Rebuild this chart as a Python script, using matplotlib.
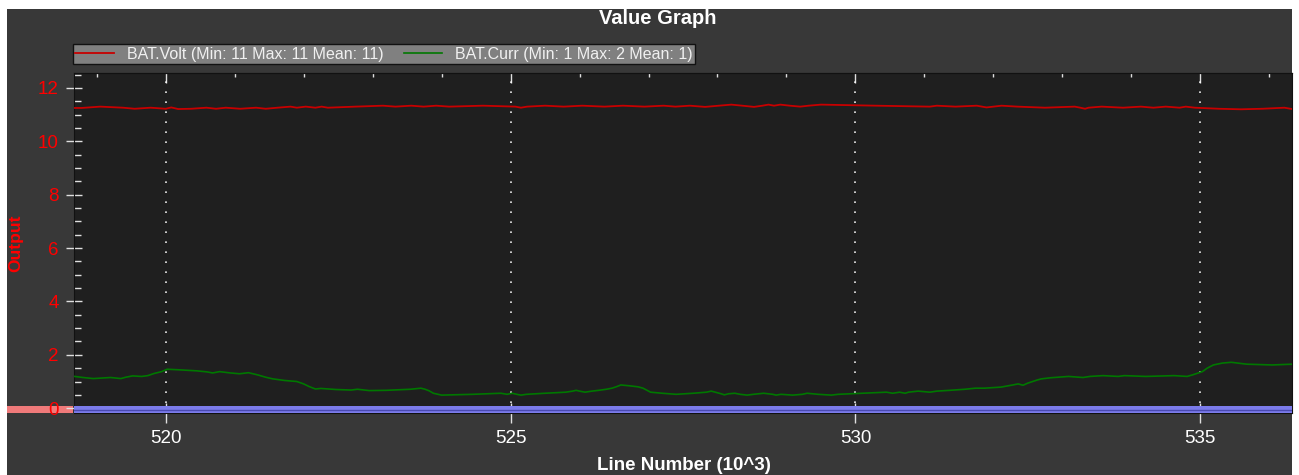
import matplotlib
matplotlib.use('Agg')
import matplotlib.pyplot as plt
from matplotlib.patches import Rectangle
from matplotlib.ticker import MultipleLocator, NullFormatter

plt.rcParams['font.family'] = ['Liberation Sans', 'DejaVu Sans']

# BAT.Volt samples (line number in thousands, volts)
volt_x = [518.68, 518.78, 519.05, 519.38, 519.55, 519.78, 520.00, 520.08, 520.18, 520.37,
          520.59, 520.73, 520.87, 521.08, 521.31, 521.45, 521.62, 521.81, 521.90, 522.03,
          522.17, 522.26, 522.35, 522.75, 523.15, 523.33, 523.56, 523.74, 523.92, 524.11,
          524.60, 525.07, 525.15, 525.24, 525.50, 525.77, 526.04, 526.36, 526.63, 526.94,
          527.22, 527.39, 527.60, 527.82, 528.02, 528.20, 528.36, 528.53, 528.65, 528.74,
          528.82, 528.91, 529.05, 529.20, 529.32, 529.50, 530.30, 531.08, 531.18, 531.45,
          531.76, 531.90, 532.12, 532.35, 532.75, 533.18, 533.26, 533.33, 533.38, 533.57,
          533.88, 534.14, 534.32, 534.50, 534.70, 534.79, 534.92, 535.27, 535.59, 535.90,
          536.22, 536.33]
volt_y = [11.25, 11.25, 11.30, 11.26, 11.22, 11.26, 11.22, 11.27, 11.21, 11.22,
          11.26, 11.22, 11.26, 11.22, 11.26, 11.22, 11.26, 11.30, 11.26, 11.30,
          11.26, 11.30, 11.26, 11.30, 11.335, 11.30, 11.335, 11.30, 11.335, 11.30,
          11.335, 11.30, 11.26, 11.30, 11.335, 11.30, 11.335, 11.30, 11.335, 11.30,
          11.335, 11.30, 11.335, 11.29, 11.335, 11.375, 11.335, 11.29, 11.335, 11.375,
          11.335, 11.375, 11.335, 11.30, 11.335, 11.375, 11.335, 11.30, 11.335, 11.30,
          11.335, 11.27, 11.335, 11.30, 11.26, 11.30, 11.26, 11.22, 11.26, 11.30,
          11.26, 11.30, 11.26, 11.30, 11.26, 11.30, 11.26, 11.22, 11.20, 11.22,
          11.26, 11.21]

# BAT.Curr samples (line number in thousands, amps)
curr_x = [518.68, 518.80, 518.95, 519.20, 519.35, 519.42, 519.52, 519.65, 519.74, 519.83,
          519.94, 520.02, 520.18, 520.45, 520.60, 520.68, 520.78, 520.94, 521.07, 521.20,
          521.33, 521.45, 521.55, 521.72, 521.90, 522.00, 522.08, 522.17, 522.25, 522.47,
          522.69, 522.78, 522.95, 523.20, 523.55, 523.70, 523.76, 523.82, 523.88, 524.00,
          524.45, 524.86, 524.95, 525.02, 525.09, 525.15, 525.23, 525.50, 525.80, 525.90,
          525.95, 526.00, 526.08, 526.18, 526.28, 526.39, 526.47, 526.53, 526.60, 526.72,
          526.85, 526.92, 526.98, 527.03, 527.20, 527.40, 527.65, 527.84, 527.91, 527.97,
          528.04, 528.10, 528.16, 528.25, 528.33, 528.43, 528.52, 528.67, 528.80, 528.85,
          528.92, 529.09, 529.23, 529.30, 529.46, 529.65, 529.75, 530.10, 530.45, 530.54,
          530.64, 530.72, 530.77, 530.91, 531.08, 531.18, 531.37, 531.59, 531.74, 531.87,
          532.11, 532.22, 532.28, 532.36, 532.43, 532.50, 532.57, 532.64, 532.70, 532.83,
          533.09, 533.30, 533.40, 533.59, 533.81, 533.90, 534.21, 534.62, 534.81, 534.89,
          534.96, 535.03, 535.10, 535.19, 535.32, 535.45, 535.54, 535.67, 536.04, 536.34]
curr_y = [1.19, 1.15, 1.11, 1.15, 1.11, 1.16, 1.21, 1.19, 1.22, 1.30,
          1.37, 1.46, 1.44, 1.40, 1.36, 1.32, 1.37, 1.32, 1.29, 1.33,
          1.25, 1.16, 1.10, 1.04, 1.00, 0.91, 0.81, 0.72, 0.74, 0.70,
          0.68, 0.71, 0.66, 0.67, 0.71, 0.75, 0.71, 0.65, 0.56, 0.49,
          0.52, 0.56, 0.52, 0.56, 0.52, 0.49, 0.52, 0.56, 0.60, 0.64,
          0.67, 0.64, 0.60, 0.64, 0.67, 0.71, 0.75, 0.80, 0.87, 0.84,
          0.80, 0.75, 0.67, 0.60, 0.56, 0.52, 0.56, 0.60, 0.64, 0.60,
          0.55, 0.50, 0.54, 0.56, 0.52, 0.49, 0.52, 0.56, 0.52, 0.49,
          0.52, 0.49, 0.52, 0.56, 0.52, 0.49, 0.52, 0.56, 0.60, 0.56,
          0.60, 0.56, 0.60, 0.64, 0.60, 0.64, 0.67, 0.71, 0.75, 0.75,
          0.79, 0.84, 0.87, 0.91, 0.86, 0.94, 1.00, 1.06, 1.10, 1.14,
          1.19, 1.15, 1.19, 1.22, 1.19, 1.22, 1.19, 1.22, 1.19, 1.25,
          1.31, 1.37, 1.50, 1.62, 1.69, 1.72, 1.69, 1.65, 1.62, 1.65]

volt_label = 'BAT.Volt (Min: 11 Max: 11 Mean: 11)'
curr_label = 'BAT.Curr (Min: 1 Max: 2 Mean: 1)'

W, H = 1299, 475
fig = plt.figure(figsize=(W / 100, H / 100), dpi=100, facecolor='white')

# dark panel behind everything
fig.patches.append(Rectangle((7 / W, 0), (1292 - 7) / W, (H - 9) / H,
                             transform=fig.transFigure, facecolor='#383838',
                             edgecolor='none', zorder=-10))
# pink strip left of the axis at zero
fig.patches.append(Rectangle((7 / W, 1 - 413 / H), (73 - 7) / W, 7 / H,
                             transform=fig.transFigure, facecolor='#f07a7a',
                             edgecolor='none', zorder=-5))

ax = fig.add_axes([74 / W, 1 - 413 / H, (1292 - 74) / W, (413 - 73) / H])
ax.set_zorder(2)
ax.set_facecolor('#1f1f1f')

ax.plot(volt_x, volt_y, color='#c80000', lw=1.3, label=volt_label, zorder=3)
ax.plot(curr_x, curr_y, color='#007800', lw=1.2, label=curr_label, zorder=3)

ax.set_xlim(518.67, 536.33)
ax.set_ylim(-0.18, 12.56)

# blue band along the bottom
ax.axhspan(-0.18, 0.086, color='#7b7bea', zorder=4, lw=0)
ax.axhline(-0.06, color='#4a4ab0', lw=1, zorder=4)

ax.xaxis.set_major_locator(MultipleLocator(5))
ax.xaxis.set_minor_locator(MultipleLocator(1))
ax.yaxis.set_major_locator(MultipleLocator(2))
ax.yaxis.set_minor_locator(MultipleLocator(0.5))

ax.tick_params(axis='x', which='major', direction='inout', length=14, width=1,
               color='#e0e0e0', labelcolor='white', labelsize=13.5, pad=5)
ax.tick_params(axis='x', which='minor', direction='in', length=4, width=1,
               color='#e0e0e0')
ax.tick_params(axis='y', which='major', direction='inout', length=12, width=1,
               color='#e0e0e0', labelcolor='red', labelsize=13.5, pad=5)
ax.tick_params(axis='y', which='minor', direction='in', length=5, width=1,
               color='#e0e0e0')

# inward ticks along the top edge
top = ax.secondary_xaxis('top')
top.xaxis.set_major_locator(MultipleLocator(5))
top.xaxis.set_minor_locator(MultipleLocator(1))
top.xaxis.set_major_formatter(NullFormatter())
top.tick_params(which='major', direction='in', length=7, width=1, color='#e0e0e0')
top.tick_params(which='minor', direction='in', length=3, width=1, color='#e0e0e0')
top.spines['top'].set_color('#111111')

ax.grid(True, axis='x', which='major', color='white', lw=1.2,
        linestyle=(0, (1, 5)), alpha=0.9)

for s in ax.spines.values():
    s.set_color('#111111')

fig.text(658 / W, 1 - 19 / H, 'Value Graph', color='white', fontsize=14.5,
         fontweight='bold', ha='center', va='center')
fig.text(684 / W, 1 - 465 / H, 'Line Number (10^3)', color='white',
         fontsize=13.5, fontweight='bold', ha='center', va='center')
fig.text(16 / W, 1 - 243 / H, 'Output', color='red', fontsize=12.5,
         fontweight='bold', ha='center', va='center', rotation=90)

leg = fig.legend(loc='lower left', bbox_to_anchor=(73 / W, 1 - 64 / H), ncol=2,
                 fontsize=11.5, frameon=True, fancybox=False, facecolor='#808080',
                 edgecolor='#111111', framealpha=1, borderpad=0.15,
                 handlelength=2.4, handletextpad=0.8, columnspacing=1.3,
                 borderaxespad=0)
for t in leg.get_texts():
    t.set_color('#f0f0f0')

fig.savefig('out.png', dpi=100, facecolor=fig.get_facecolor())
